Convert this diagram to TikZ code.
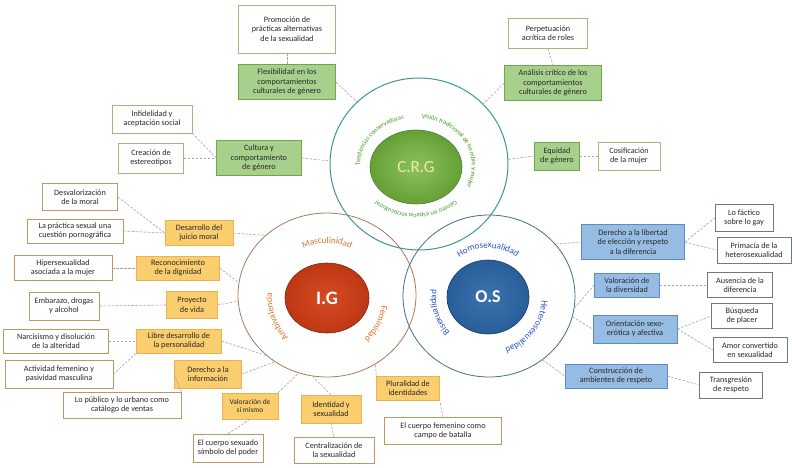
\documentclass[tikz,border=0pt]{standalone}
\usepackage{fontspec}
\setmainfont{Carlito}
\usetikzlibrary{shapes.geometric,decorations.text}
\definecolor{txt}{RGB}{40,40,40}
\definecolor{gfill}{RGB}{168,208,141}
\definecolor{gdraw}{RGB}{112,168,72}
\definecolor{gwdraw}{RGB}{150,190,120}
\definecolor{ofill}{RGB}{250,205,110}
\definecolor{odraw}{RGB}{235,178,80}
\definecolor{owdraw}{RGB}{190,150,100}
\definecolor{bfill}{RGB}{150,188,228}
\definecolor{bdraw}{RGB}{90,140,200}
\definecolor{bwdraw}{RGB}{110,120,140}
\definecolor{cngray}{RGB}{165,165,165}
\definecolor{crgline}{RGB}{60,150,150}
\definecolor{igline}{RGB}{170,120,90}
\definecolor{osline}{RGB}{70,110,140}
\definecolor{crgtxt}{RGB}{60,150,30}
\definecolor{igtxt}{RGB}{225,110,40}
\definecolor{ostxt}{RGB}{40,80,200}
\newcommand\crgtf{\color{crgtxt}\fontsize{6.5}{7}\selectfont}
\newcommand\igtf{\color{igtxt}\fontsize{9}{9}\selectfont}
\newcommand\ostf{\color{ostxt}\fontsize{9}{9}\selectfont}
\tikzset{
  bx/.style={draw, align=center, inner sep=1pt, line width=0.6pt, text=txt,
    font=\fontsize{8.2}{9.4}\selectfont},
  gbox/.style={bx, fill=gfill, draw=gdraw},
  gw/.style={bx, fill=white, draw=gwdraw},
  obox/.style={bx, fill=ofill, draw=odraw},
  ow/.style={bx, fill=white, draw=owdraw},
  bbox/.style={bx, fill=bfill, draw=bdraw},
  bw/.style={bx, fill=white, draw=bwdraw},
  cn/.style={draw=cngray, line width=0.6pt, dash pattern=on 2.5pt off 1.5pt},
  ring/.style={ellipse, inner sep=0pt, line width=0.8pt},
  disc/.style={ellipse, inner sep=0pt, line width=0.6pt, text=white},
  rt/.style={decorate, decoration={text along path, text align=center, text={#1}}}
}
\begin{document}
\begin{tikzpicture}[x=1pt,y=1pt]
\useasboundingbox (0,0) rectangle (792,-467);
\fill[white] (0,0) rectangle (792,-467);

% rings
\node[ring, draw=crgline, line width=1pt, minimum width=178pt, minimum height=172pt] (crgR) at (419,-164) {};
\node[ring, draw=igline, minimum width=178pt, minimum height=164pt] (igR) at (327,-295) {};
\node[ring, draw=osline, minimum width=172pt, minimum height=162pt] (osR) at (489,-296) {};

% discs
\node[disc, minimum width=92pt, minimum height=74pt, inner color={rgb,255:red,140;green,195;blue,90}, outer color={rgb,255:red,100;green,160;blue,55}, draw={rgb,255:red,80;green,130;blue,45}, text={rgb,255:red,242;green,232;blue,170}, font=\fontsize{17}{17}\selectfont] (crgD) at (416,-167) {C.R.G};
\node[disc, minimum width=84pt, minimum height=70pt, inner color={rgb,255:red,215;green,75;blue,35}, outer color={rgb,255:red,190;green,55;blue,20}, draw={rgb,255:red,120;green,40;blue,20}, font=\bfseries\fontsize{19}{19}\selectfont] (igD) at (327,-298) {I.G};
\node[disc, minimum width=82pt, minimum height=74pt, inner color={rgb,255:red,60;green,115;blue,175}, outer color={rgb,255:red,40;green,95;blue,155}, draw={rgb,255:red,30;green,60;blue,100}, font=\bfseries\fontsize{18}{18}\selectfont] (osD) at (488,-297) {O.S};

% ring texts
\path[rt={|\crgtf|Tendencias conservadoras}] (416,-166) ++(192:56 and 48) arc[start angle=192, end angle=92, x radius=56, y radius=48];
\path[rt={|\crgtf|Visión tradicional de hombre y mujer}] (416,-166) ++(92:56 and 48) arc[start angle=92, end angle=-34, x radius=56, y radius=48];
\path[rt={|\crgtf|Género en espacio sociocultural}] (416,-166) ++(-30:56 and 48) arc[start angle=-30, end angle=-150, x radius=56, y radius=48];

\path[rt={|\igtf|Masculinidad}] (327,-298) ++(130:55) arc[start angle=130, end angle=50, radius=55];
\path[rt={|\igtf|Ambivalencia}] (327,-298) ++(245:55) arc[start angle=245, end angle=155, radius=55];
\path[rt={|\igtf|Feminidad}] (327,-298) ++(15:55) arc[start angle=15, end angle=-70, radius=55];

\path[rt={|\ostf|Homosexualidad}] (488,-297) ++(145:49) arc[start angle=145, end angle=35, radius=49];
\path[rt={|\ostf|Bisexualidad}] (488,-297) ++(250:52) arc[start angle=250, end angle=145, radius=52];
\path[rt={|\ostf|Heterosexualidad}] (488,-297) ++(20:54) arc[start angle=20, end angle=-95, radius=54];

% CRG boxes
\node[gw, minimum width=97pt, minimum height=48pt] (promo) at (287,-29) {Promoción de\\prácticas alternativas\\de la sexualidad};
\node[gbox, minimum width=97pt, minimum height=35pt] (flex) at (287,-82) {Flexibilidad en los\\comportamientos\\culturales de género};
\node[gw, minimum width=79pt, minimum height=30pt] (perp) at (548,-33) {Perpetuación\\acrítica de roles};
\node[gbox, minimum width=97pt, minimum height=35pt] (anal) at (553,-83) {Análisis crítico de los\\comportamientos\\culturales de género};
\node[gw, minimum width=80pt, minimum height=28pt] (inf) at (152,-119) {Infidelidad y\\aceptación social};
\node[gw, minimum width=65pt, minimum height=30pt] (crea) at (151,-158) {Creación de\\estereotipos};
\node[gbox, minimum width=85pt, minimum height=35pt] (cult) at (259,-158) {Cultura y\\comportamiento\\de género};
\node[gbox, minimum width=45pt, minimum height=28pt] (equi) at (557,-156) {Equidad\\de género};
\node[gw, minimum width=62pt, minimum height=28pt] (cosi) at (629,-156) {Cosificación\\de la mujer};

% IG boxes
\node[ow, minimum width=75pt, minimum height=27pt] (desv) at (80,-197) {Desvalorización\\de la moral};
\node[ow, minimum width=96pt, minimum height=24pt] (prac) at (75,-231) {La práctica sexual una\\cuestión pornográfica};
\node[obox, minimum width=68pt, minimum height=25pt] (desa) at (199,-233) {Desarrollo del\\juicio moral};
\node[ow, minimum width=98pt, minimum height=25pt] (hiper) at (63,-268) {Hipersexualidad\\asociada a la mujer};
\node[obox, minimum width=83pt, minimum height=24pt] (reco) at (178,-268) {Reconocimiento\\de la dignidad};
\node[ow, minimum width=70pt, minimum height=28pt] (emb) at (64,-306) {Embarazo, drogas\\y alcohol};
\node[obox, minimum width=51pt, minimum height=27pt] (proy) at (192,-305) {Proyecto\\de vida};
\node[ow, minimum width=105pt, minimum height=24pt] (narc) at (56,-341) {Narcisismo y disolución\\de la alteridad};
\node[obox, minimum width=85pt, minimum height=24pt] (libre) at (179,-341) {Libre desarrollo de\\la personalidad};
\node[ow, minimum width=108pt, minimum height=28pt] (act) at (59,-374) {Actividad femenino y\\pasividad masculina};
\node[obox, minimum width=67pt, minimum height=28pt] (dere) at (208,-374) {Derecho a la\\información};
\node[ow, minimum width=118pt, minimum height=26pt] (lopub) at (122,-405) {Lo público y lo urbano como\\catálogo de ventas};
\node[obox, minimum width=56pt, minimum height=26pt, font=\fontsize{7.4}{8.8}\selectfont] (val) at (250,-406) {Valoración de\\sí mismo};
\node[ow, minimum width=70pt, minimum height=28pt] (cuerpo) at (228,-448) {El cuerpo sexuado\\símbolo del poder};
\node[obox, minimum width=60pt, minimum height=28pt] (ident) at (331,-409) {Identidad y\\sexualidad};
\node[ow, minimum width=80pt, minimum height=26pt] (cent) at (334,-450) {Centralización de\\la sexualidad};
\node[obox, minimum width=63pt, minimum height=24pt] (plur) at (408,-388) {Pluralidad de\\identidades};
\node[ow, minimum width=117pt, minimum height=27pt] (cfem) at (443,-431) {El cuerpo femenino como\\campo de batalla};

% OS boxes
\node[bbox, minimum width=103pt, minimum height=35pt] (der) at (633,-242) {Derecho a la libertad\\de elección y respeto\\a la diferencia};
\node[bw, minimum width=58pt, minimum height=27pt] (lafac) at (744,-218) {Lo fáctico\\sobre lo gay};
\node[bw, minimum width=74pt, minimum height=26pt] (prim) at (754,-250) {Primacía de la\\heterosexualidad};
\node[bbox, minimum width=65pt, minimum height=24pt] (valdiv) at (627,-285) {Valoración de\\la diversidad};
\node[bw, minimum width=65pt, minimum height=25pt] (aus) at (740,-285) {Ausencia de la\\diferencia};
\node[bbox, minimum width=84pt, minimum height=28pt] (orient) at (635,-329) {Orientación sexo-\\erótica y afectiva};
\node[bw, minimum width=61pt, minimum height=25pt] (busq) at (742,-316) {Búsqueda\\de placer};
\node[bw, minimum width=74pt, minimum height=25pt] (amor) at (750,-350) {Amor convertido\\en sexualidad};
\node[bbox, minimum width=102pt, minimum height=24pt] (constr) at (616,-376) {Construcción de\\ambientes de respeto};
\node[bw, minimum width=63pt, minimum height=26pt] (trans) at (731,-385) {Transgresión\\de respeto};

% CRG connectors
\draw[cn] (promo.south) -- (flex.north);
\draw[cn] (flex.east) -- (crgR.135);
\draw[cn] (perp.south) -- (anal.north);
\draw[cn] (anal.west) -- (crgR.43);
\draw[cn] (inf.south east) -- (cult.west);
\draw[cn] (crea.east) -- (cult.west);
\draw[cn] (cult.east) -- (crgR.178);
\draw[cn] (crgR.3) -- (equi.west);
\draw[cn] (equi.east) -- (cosi.west);

% IG connectors
\draw[cn] (desv.east) -- (desa.west);
\draw[cn] (prac.east) -- (desa.west);
\draw[cn] (desa.east) -- (igR.136);
\draw[cn] (hiper.east) -- (reco.west);
\draw[cn] (reco.east) -- (igR.172);
\draw[cn] (emb.east) -- (proy.west);
\draw[cn] (proy.east) -- (igR.184);
\draw[cn] (narc.east) -- (libre.west);
\draw[cn] (libre.east) -- (igR.225);
\draw[cn] (act.east) -- (libre.south west);
\draw[cn] (lopub.north east) -- (dere.west);
\draw[cn] (dere.east) -- (igR.232);
\draw[cn] (val.north east) -- (igR.250);
\draw[cn] (cuerpo.north) -- (val.south);
\draw[cn] (ident.north) -- (igR.260);
\draw[cn] (cent.north) -- (ident.south);
\draw[cn] (plur.north west) -- (igR.305);
\draw[cn] (cfem.north) -- (plur.south east);

% OS connectors
\draw[cn] (osR.38) -- (der.west);
\draw[cn] (der.east) -- (lafac.west);
\draw[cn] (der.east) -- (prim.west);
\draw[cn] (osR.-8) -- (valdiv.west);
\draw[cn] (valdiv.east) -- (aus.west);
\draw[cn] (osR.-14) -- (orient.west);
\draw[cn] (orient.east) -- (busq.west);
\draw[cn] (orient.east) -- (amor.west);
\draw[cn] (osR.-50) -- (constr.west);
\draw[cn] (constr.east) -- (trans.west);
\end{tikzpicture}
\end{document}
